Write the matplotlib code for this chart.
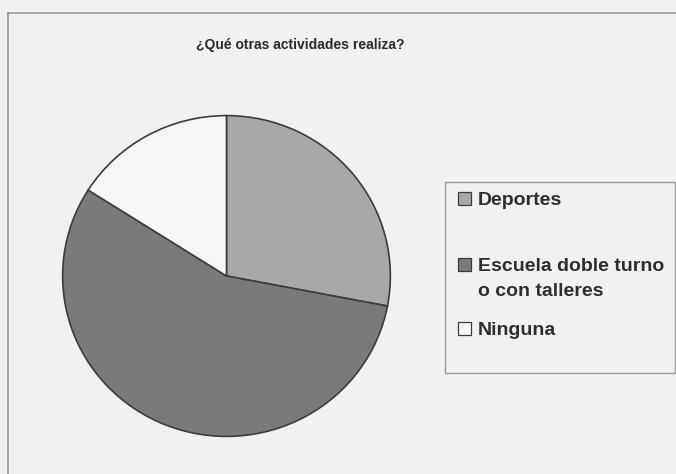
import matplotlib.pyplot as plt
from matplotlib.patches import Rectangle
from matplotlib.lines import Line2D

# respuestas (%)
categorias = ['Deportes', 'Escuela doble turno\no con talleres', 'Ninguna']
valores = [28, 56, 16]
colores = ['#a8a8a8', '#7a7a7a', '#f6f6f6']

W, H = 676, 474
fig = plt.figure(figsize=(W / 100, H / 100), dpi=100, facecolor='#f1f1f1')


def fx(x):
    return x / W


def fy(y):
    return 1 - y / H


# marco del grafico
fig.add_artist(Line2D([fx(8), fx(8)], [fy(13), 0], color='#9a9a9a', lw=1.2))
fig.add_artist(Line2D([fx(8), 1], [fy(13), fy(13)], color='#9a9a9a', lw=1.2))

fig.text(fx(300), fy(45), '¿Qué otras actividades realiza?', ha='center', va='center',
         fontsize=10, fontweight='bold', family='Liberation Sans', color='#2a2a2a')

ax = fig.add_axes([fx(61), fy(438), fx(392) - fx(61), (438 - 114) / H])
ax.pie(valores, colors=colores, startangle=90, counterclock=False, radius=1,
       wedgeprops=dict(edgecolor='#3c3c3c', linewidth=1.2))
ax.set_aspect('auto')
ax.set_xlim(-1.01, 1.01)
ax.set_ylim(-1.01, 1.01)

# leyenda
fig.add_artist(Rectangle((fx(445), fy(373)), fx(675) - fx(445), (373 - 182) / H,
                         transform=fig.transFigure, facecolor='none',
                         edgecolor='#9a9a9a', lw=1))
base = [205, 271, 335]   # linea base de la primera linea de cada entrada
for cat, col, yb in zip(categorias, colores, base):
    yc = yb - 6.5
    fig.add_artist(Rectangle((fx(458), fy(yc + 6.5)), 13 / W, 13 / H,
                             transform=fig.transFigure, facecolor=col,
                             edgecolor='#3c3c3c', lw=0.9))
    for i, linea in enumerate(cat.split('\n')):
        fig.text(fx(478), fy(yb + 25 * i), linea, ha='left', va='baseline',
                 fontsize=14, fontweight='bold', family='Liberation Sans',
                 color='#2e2e2e')

fig.savefig('out.png', dpi=100, facecolor=fig.get_facecolor())
